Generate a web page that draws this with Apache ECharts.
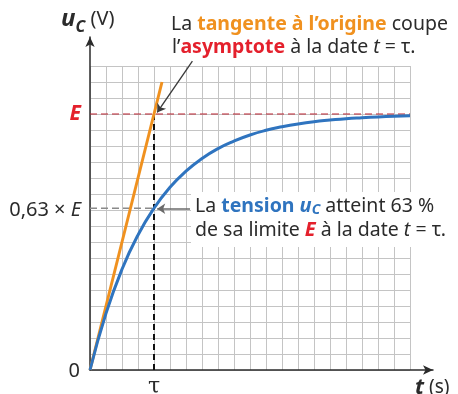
<!DOCTYPE html>
<html>
<head>
<meta charset="utf-8">
<script src="https://cdn.jsdelivr.net/npm/echarts@6/dist/echarts.min.js"></script>
<style>
html, body { margin: 0; padding: 0; background: #fff; }
#chart { width: 458px; height: 394px; }
</style>
</head>
<body>
<div id="chart"></div>
<script>
// units: one grid cell = 1
var E = 16;
var tau = 4;
var tValues = [0, 1, 2, 3, 4, 5, 6, 7, 8, 9, 10, 11, 12, 13, 14, 15, 16, 17, 18, 19, 20];
var ucValues = [0, 3.54, 6.3, 8.44, 10.11, 11.42, 12.43, 13.22, 13.84, 14.31, 14.69,
                14.98, 15.2, 15.38, 15.52, 15.62, 15.71, 15.77, 15.82, 15.86, 15.89];
var tangentPoints = [[0, 0], [4.5, 18]];
var yTickValues = [10, 16];
var yTickLabels = ['{n|0,63 × }{i|E}', '{e|E}'];
var originLabel = '0';
var xTickValues = [4];
var xTickLabels = ['{t|τ}'];
// arrows from the notes to the curve
var arrowTop = [[6.4, 19.3], [4.2, 16.1]];
var arrowMid = [[6.25, 10.08], [4.2, 10.08]];

var FONT = '"Noto Sans", sans-serif';
var FS = 19.5;
var dark = '#2b2b2b';
var orange = '#f0911f';
var red = '#e4202c';
var blue = '#2f74bf';

var dom = document.getElementById('chart');
var myChart = echarts.init(dom, null, { renderer: 'canvas' });

var curve = tValues.map(function (t, i) { return [t, ucValues[i]]; });

var option = {
    animation: false,
    backgroundColor: '#fff',
    grid: [
        { left: 90, top: 66, width: 320, height: 304, outerBoundsMode: 'none' },
        { left: 90, top: 37, width: 343, height: 333, outerBoundsMode: 'none' }
    ],
    xAxis: [
        {
            gridIndex: 0, type: 'value', min: 0, max: 20, interval: 1,
            axisLine: { show: false }, axisTick: { show: false },
            splitLine: { show: true, lineStyle: { color: '#c4c4c4', width: 1 } },
            axisLabel: {
                margin: 17, verticalAlign: 'middle',
                formatter: function (v) {
                    var k = xTickValues.indexOf(v);
                    return k >= 0 ? xTickLabels[k] : '';
                },
                rich: {
                    t: { fontFamily: 'DejaVu Serif', fontSize: 22, color: dark, lineHeight: 12 }
                }
            }
        },
        {
            // axis line with arrow, and the "0" at the origin
            gridIndex: 1, type: 'value', min: 0, max: 1,
            axisLine: { show: true, symbol: ['none', 'arrow'], symbolSize: [7, 10],
                lineStyle: { color: dark, width: 1.5 } },
            axisTick: { show: false }, splitLine: { show: false },
            axisLabel: {
                margin: 1, align: 'right', verticalAlign: 'middle', padding: [0, 10, 0, 0],
                fontFamily: FONT, fontSize: 20, color: dark, lineHeight: 16,
                formatter: function (v) { return v === 0 ? originLabel : ''; }
            }
        }
    ],
    yAxis: [
        {
            gridIndex: 0, type: 'value', min: 0, max: 19, interval: 1,
            axisLine: { show: false }, axisTick: { show: false },
            splitLine: { show: true, lineStyle: { color: '#c4c4c4', width: 1 } },
            axisLabel: {
                margin: 9,
                fontFamily: FONT, fontSize: 20, color: dark,
                formatter: function (v) {
                    var k = yTickValues.indexOf(v);
                    return k >= 0 ? yTickLabels[k] : '';
                },
                rich: {
                    n: { fontFamily: FONT, fontSize: 20, color: dark },
                    i: { fontFamily: FONT, fontSize: 20, color: dark, fontStyle: 'italic' },
                    e: { fontFamily: FONT, fontSize: 21, color: red, fontStyle: 'italic', fontWeight: 'bold' }
                }
            }
        },
        {
            gridIndex: 1, type: 'value', min: 0, max: 1,
            axisLine: { show: true, symbol: ['none', 'arrow'], symbolSize: [7, 10],
                lineStyle: { color: dark, width: 1.5 } },
            axisTick: { show: false }, axisLabel: { show: false }, splitLine: { show: false }
        }
    ],
    series: [
        {
            type: 'line', xAxisIndex: 0, yAxisIndex: 0, showSymbol: false, silent: true,
            data: [[0, E], [20, E]],
            lineStyle: { color: '#b8202e', width: 1, type: [7, 4] }, z: 3
        },
        {
            type: 'line', xAxisIndex: 0, yAxisIndex: 0, showSymbol: false, silent: true,
            data: [[tau, 0], [tau, E]],
            lineStyle: { color: '#111', width: 2, type: [6, 4] }, z: 3
        },
        {
            type: 'line', xAxisIndex: 0, yAxisIndex: 0, showSymbol: false, silent: true,
            data: [[0, ucValues[tau]], [tau, ucValues[tau]]],
            lineStyle: { color: '#8a8a8a', width: 1.5, type: [7, 4] }, z: 3
        },
        {
            type: 'line', xAxisIndex: 0, yAxisIndex: 0, showSymbol: false, silent: true,
            data: tangentPoints, clip: false,
            lineStyle: { color: orange, width: 3 }, z: 4
        },
        {
            type: 'line', xAxisIndex: 0, yAxisIndex: 0, showSymbol: false, silent: true,
            data: curve, smooth: true,
            lineStyle: { color: blue, width: 3 }, z: 5
        },
        {
            type: 'lines', coordinateSystem: 'cartesian2d', xAxisIndex: 0, yAxisIndex: 0,
            clip: false, silent: true, symbol: ['none', 'arrow'], symbolSize: 8,
            color: '#3a3a3a', itemStyle: { color: '#3a3a3a' },
            lineStyle: { color: '#3a3a3a', width: 1.3, opacity: 1 },
            data: [{ coords: arrowTop }], z: 6
        },
        {
            type: 'lines', coordinateSystem: 'cartesian2d', xAxisIndex: 0, yAxisIndex: 0,
            clip: false, silent: true, symbol: ['none', 'arrow'], symbolSize: 8,
            color: '#6a6a6a', itemStyle: { color: '#6a6a6a' },
            lineStyle: { color: '#6a6a6a', width: 1.5, opacity: 1 },
            data: [{ coords: arrowMid }], z: 6
        }
    ],
    graphic: [
        {
            type: 'rect', z: 50, silent: true,
            shape: { x: 191, y: 192, width: 220, height: 55 },
            style: { fill: '#fff' }
        },
        {
            type: 'text', z: 60, x: 171, y: 24,
            style: {
                verticalAlign: 'middle',
                text: '{a|La }{o|tangente à l’origine}{a| coupe}',
                rich: {
                    a: { fontFamily: FONT, fontSize: FS, fill: dark },
                    o: { fontFamily: FONT, fontSize: FS, fill: orange, fontWeight: 'bold' }
                }
            }
        },
        {
            type: 'text', z: 60, x: 172, y: 47,
            style: {
                verticalAlign: 'middle',
                text: '{a|l’}{r|asymptote}{a| à la date }{i|t}{a| = τ.}',
                rich: {
                    a: { fontFamily: FONT, fontSize: FS, fill: dark },
                    i: { fontFamily: FONT, fontSize: FS, fill: dark, fontStyle: 'italic' },
                    r: { fontFamily: FONT, fontSize: FS, fill: red, fontWeight: 'bold' }
                }
            }
        },
        {
            type: 'text', z: 60, x: 195, y: 206,
            style: {
                verticalAlign: 'middle',
                text: '{a|La }{b|tension }{u|u}{s|C}{a| atteint 63 %}',
                rich: {
                    a: { fontFamily: FONT, fontSize: FS, fill: dark, lineHeight: 23 },
                    b: { fontFamily: FONT, fontSize: FS, fill: blue, fontWeight: 'bold', lineHeight: 23 },
                    u: { fontFamily: FONT, fontSize: 20, fill: blue, fontWeight: 'bold', fontStyle: 'italic', lineHeight: 23 },
                    s: { fontFamily: FONT, fontSize: 14, fill: blue, fontWeight: 'bold', fontStyle: 'italic',
                         lineHeight: 14, verticalAlign: 'bottom' }
                }
            }
        },
        {
            type: 'text', z: 60, x: 195, y: 230,
            style: {
                verticalAlign: 'middle',
                text: '{a|de sa limite }{e|E}{a| à la date }{i|t}{a| = τ.}',
                rich: {
                    a: { fontFamily: FONT, fontSize: FS, fill: dark },
                    i: { fontFamily: FONT, fontSize: FS, fill: dark, fontStyle: 'italic' },
                    e: { fontFamily: FONT, fontSize: 20, fill: red, fontWeight: 'bold', fontStyle: 'italic' }
                }
            }
        },
        {
            type: 'text', z: 60, x: 61, y: 19,
            style: {
                verticalAlign: 'middle',
                text: '{u|u}{s|C}{a| (V)}',
                rich: {
                    u: { fontFamily: FONT, fontSize: 24, fill: dark, fontWeight: 'bold', fontStyle: 'italic', lineHeight: 32 },
                    s: { fontFamily: FONT, fontSize: 16, fill: dark, fontWeight: 'bold', fontStyle: 'italic',
                         lineHeight: 16, verticalAlign: 'bottom' },
                    a: { fontFamily: FONT, fontSize: 20, fill: dark, lineHeight: 30 }
                }
            }
        },
        {
            type: 'text', z: 60, x: 415, y: 388,
            style: {
                verticalAlign: 'middle',
                text: '{t|t}{a| (s)}',
                rich: {
                    t: { fontFamily: FONT, fontSize: 22, fill: dark, fontWeight: 'bold', fontStyle: 'italic' },
                    a: { fontFamily: FONT, fontSize: 19, fill: dark }
                }
            }
        }
    ]
};

if (option && typeof option === 'object') {
    myChart.setOption(option, true);
}
</script>
</body>
</html>
